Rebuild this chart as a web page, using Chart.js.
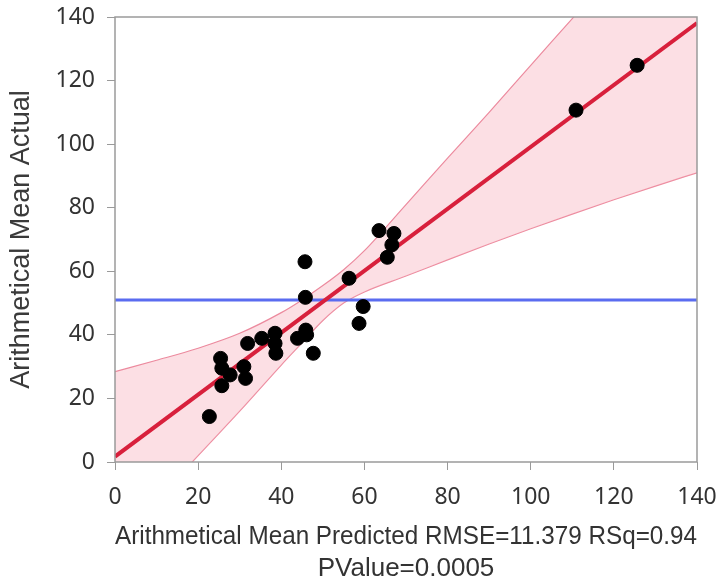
<!DOCTYPE html>
<html>
<head>
<meta charset="utf-8">
<script src="https://cdn.jsdelivr.net/npm/chart.js@4"></script>
<style>
  html, body { margin: 0; padding: 0; background: #ffffff; }
  #wrap { width: 727px; height: 584px; }
</style>
</head>
<body>
<div id="wrap"><canvas id="fit-chart" width="727" height="584"></canvas></div>
<script>
// observed points (predicted, actual)
const predicted = [22.7, 25.7, 25.4, 25.7, 27.7, 31.0, 31.4, 31.9, 35.3, 38.5, 38.5, 38.7, 43.9, 45.9, 46.1, 47.7, 45.7, 45.8, 56.3, 59.7, 58.7, 63.5, 67.1, 66.6, 65.5, 110.9, 125.6];
const actual    = [14.3, 24.0, 32.6, 29.5, 27.4, 30.0, 26.3, 37.3, 38.9, 40.5, 37.3, 34.2, 38.9, 41.5, 40.0, 34.2, 63.0, 51.8, 57.8, 48.9, 43.6, 72.8, 71.9, 68.3, 64.4, 110.7, 124.8];

// fit line and mean line
const fitX  = [0, 140];
const fitY  = [1.7, 138.1];
const meanY = [51, 51];

// confidence band
const bandX     = [0, 10, 20, 30, 40, 45, 50, 55, 60, 70, 80, 90, 100, 110, 120, 130, 140];
const bandUpper = [28.4, 32, 35.8, 40.5, 47, 51, 55.5, 60.5, 66.5, 81, 95.6, 110, 124.8, 139.5, 154.3, 169, 184];
const bandLower = [-26, -12, 2, 16, 30.5, 37.5, 44.5, 50, 53.5, 58.5, 63.6, 68.6, 73.4, 78, 82.5, 86.8, 91];

const axisTicks = [0, 20, 40, 60, 80, 100, 120, 140];

const pairs = (xs, ys) => xs.map((x, i) => ({x: x, y: ys[i]}));

//chart plugins [plotFrame]
const plotFrame = {
    id: 'plotFrame',
    afterDatasetsDraw: (chart) => {
        const {ctx, chartArea: {top, bottom, left, right}} = chart;
        ctx.save();
        ctx.strokeStyle = '#9a9a9a';
        ctx.lineWidth = 1.5;
        ctx.strokeRect(left, top, right - left, bottom - top);
        ctx.restore();
    }
}

const ctx = document.getElementById('fit-chart');

let fitChart = new Chart(ctx, {
    type: 'scatter',
    data: {
        datasets: [
            {
                data: pairs(predicted, actual),
                backgroundColor: '#000000',
                borderColor: '#000000',
                pointRadius: 7,
                pointHoverRadius: 7
            },
            {
                type: 'line',
                data: pairs(fitX, fitY),
                borderColor: '#d8203c',
                borderWidth: 4,
                pointRadius: 0,
                fill: false
            },
            {
                type: 'line',
                data: pairs(fitX, meanY),
                borderColor: '#5a6cf0',
                borderWidth: 3,
                pointRadius: 0,
                fill: false
            },
            {
                type: 'line',
                data: pairs(bandX, bandUpper),
                borderColor: '#ec8a9e',
                borderWidth: 1.2,
                pointRadius: 0,
                cubicInterpolationMode: 'monotone',
                fill: '+1',
                backgroundColor: 'rgba(246, 170, 184, 0.38)'
            },
            {
                type: 'line',
                data: pairs(bandX, bandLower),
                borderColor: '#ec8a9e',
                borderWidth: 1.2,
                pointRadius: 0,
                cubicInterpolationMode: 'monotone',
                fill: false
            }
        ]
    },
    options: {
        responsive: false,
        animation: false,
        layout: {
            padding: { top: 17, right: 30, left: 0, bottom: 0 }
        },
        scales: {
            x: {
                type: 'linear',
                min: 0,
                max: 140,
                afterFit: (scale) => {
                    scale.height = 122;
                    scale.paddingLeft = 0;
                    scale.paddingRight = 0;
                },
                afterBuildTicks: (scale) => { scale.ticks = axisTicks.map(v => ({value: v})); },
                grid: {
                    drawOnChartArea: false,
                    drawTicks: true,
                    tickLength: 8,
                    color: '#9a9a9a'
                },
                border: { display: false },
                ticks: {
                    padding: 14,
                    color: '#333333',
                    font: { family: 'Noto Sans', size: 23 }
                },
                title: {
                    display: true,
                    text: ['Arithmetical Mean Predicted RMSE=11.379 RSq=0.94', 'PValue=0.0005'],
                    color: '#333333',
                    font: { family: 'Liberation Sans', size: 26, lineHeight: 1.2 },
                    padding: { top: 0, bottom: 0 }
                }
            },
            y: {
                type: 'linear',
                min: 0,
                max: 140,
                afterFit: (scale) => {
                    scale.width = 115;
                    scale.paddingTop = 0;
                    scale.paddingBottom = 0;
                },
                afterBuildTicks: (scale) => { scale.ticks = axisTicks.map(v => ({value: v})); },
                grid: {
                    drawOnChartArea: false,
                    drawTicks: true,
                    tickLength: 8,
                    color: '#9a9a9a'
                },
                border: { display: false },
                ticks: {
                    padding: 12,
                    color: '#333333',
                    font: { family: 'Noto Sans', size: 23 }
                },
                title: {
                    display: true,
                    text: 'Arithmetical Mean Actual',
                    color: '#3a3a3a',
                    font: { family: 'Liberation Sans', size: 27 },
                    padding: { top: 5, bottom: 0 }
                }
            }
        },
        plugins: {
            legend: { display: false },
            tooltip: { enabled: false }
        }
    },
    plugins: [plotFrame]
});
</script>
</body>
</html>
